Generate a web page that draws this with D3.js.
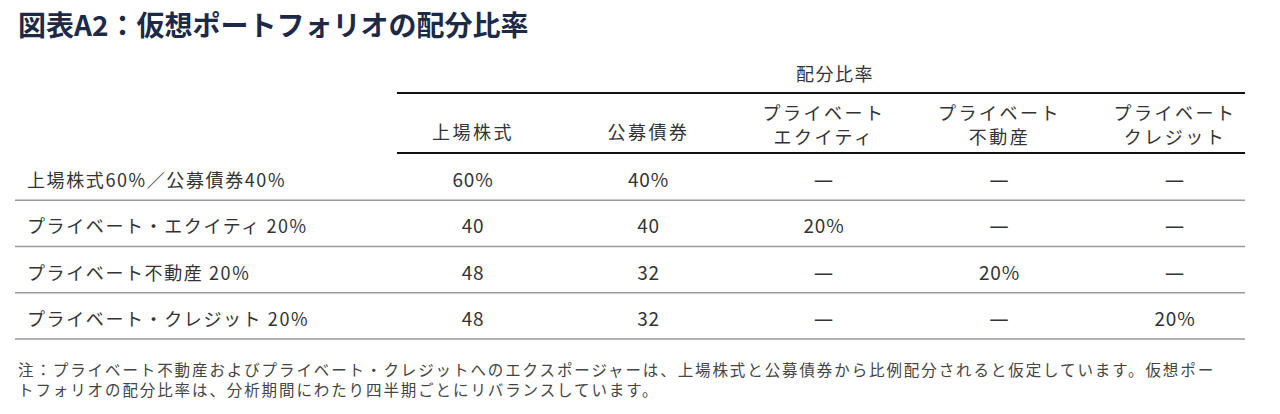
<!DOCTYPE html><html><head><meta charset="utf-8"><script src="https://cdn.jsdelivr.net/npm/d3@7"></script>
<style>body{margin:0;background:#fff}</style></head><body><svg id="c" width="1280" height="414"></svg>
<script>
const title = "図表A2：仮想ポートフォリオの配分比率";
const groupLabel = "配分比率";
const columns = [["上場株式"],["公募債券"],["プライベート","エクイティ"],["プライベート","不動産"],["プライベート","クレジット"]];
const rowLabels = ["上場株式60%／公募債券40%","プライベート・エクイティ 20%","プライベート不動産 20%","プライベート・クレジット 20%"];
const equity = ["60%","40","48","48"];
const bonds = ["40%","40","32","32"];
const pe = ["—","20%","—","—"];
const re = ["—","—","20%","—"];
const credit = ["—","—","—","20%"];
const notes = ["注：プライベート不動産およびプライベート・クレジットへのエクスポージャーは、上場株式と公募債券から比例配分されると仮定しています。仮想ポー","トフォリオの配分比率は、分析期間にわたり四半期ごとにリバランスしています。"];
const values = [equity,bonds,pe,re,credit];
const F = "'Noto Sans CJK JP','Noto Sans',sans-serif";
const svg = d3.select("#c");
const x = d3.scalePoint().domain(d3.range(columns.length)).range([473,1175]);
const y = d3.scaleBand().domain(d3.range(rowLabels.length)).range([154,339]);
svg.append("text").attr("x",18).attr("y",36).text(title).attr("font-family",F).attr("font-weight",700).attr("font-size",28).attr("fill","#1c2a48");
svg.append("text").attr("x",835).attr("y",81).attr("text-anchor","middle").text(groupLabel).attr("font-family",F).attr("font-size",18).attr("letter-spacing",1.5).attr("fill","#333");
svg.append("line").attr("x1",397).attr("x2",1245).attr("y1",93).attr("y2",93).attr("stroke","#111").attr("stroke-width",2);
svg.append("line").attr("x1",397).attr("x2",1245).attr("y1",153).attr("y2",153).attr("stroke","#111").attr("stroke-width",2);
columns.forEach((c,i)=>{
  const t=svg.append("text").attr("text-anchor","middle").attr("font-family",F).attr("font-size",18).attr("fill","#333").attr("letter-spacing",2.5);
  c.forEach((l,j)=>t.append("tspan").attr("x",x(i)).attr("y",(c.length===1?139:120)+j*24).text(l));
});
rowLabels.forEach((r,k)=>{
  const cy=y(k)+y.bandwidth()/2+10;
  svg.append("text").attr("x",27).attr("y",cy).text(r).attr("font-family",F).attr("font-size",18).attr("letter-spacing",1.6).attr("fill","#333");
  values.forEach((v,i)=>svg.append("text").attr("x",x(i)).attr("y",cy).attr("text-anchor","middle").text(v[k]).attr("font-family",v[k]==="—"?"'Noto Sans',sans-serif":F).attr("font-size",19).attr("letter-spacing",0.8).attr("fill","#333"));
  svg.append("line").attr("x1",15).attr("x2",1245).attr("y1",y(k)+y.bandwidth()).attr("y2",y(k)+y.bandwidth()).attr("stroke","#999").attr("stroke-width",1.5);
});
notes.forEach((n,i)=>svg.append("text").attr("x",18).attr("y",376+i*20).text(n).attr("font-family",F).attr("font-size",15.5).attr("letter-spacing",1.9).attr("fill","#444"));
</script></body></html>
